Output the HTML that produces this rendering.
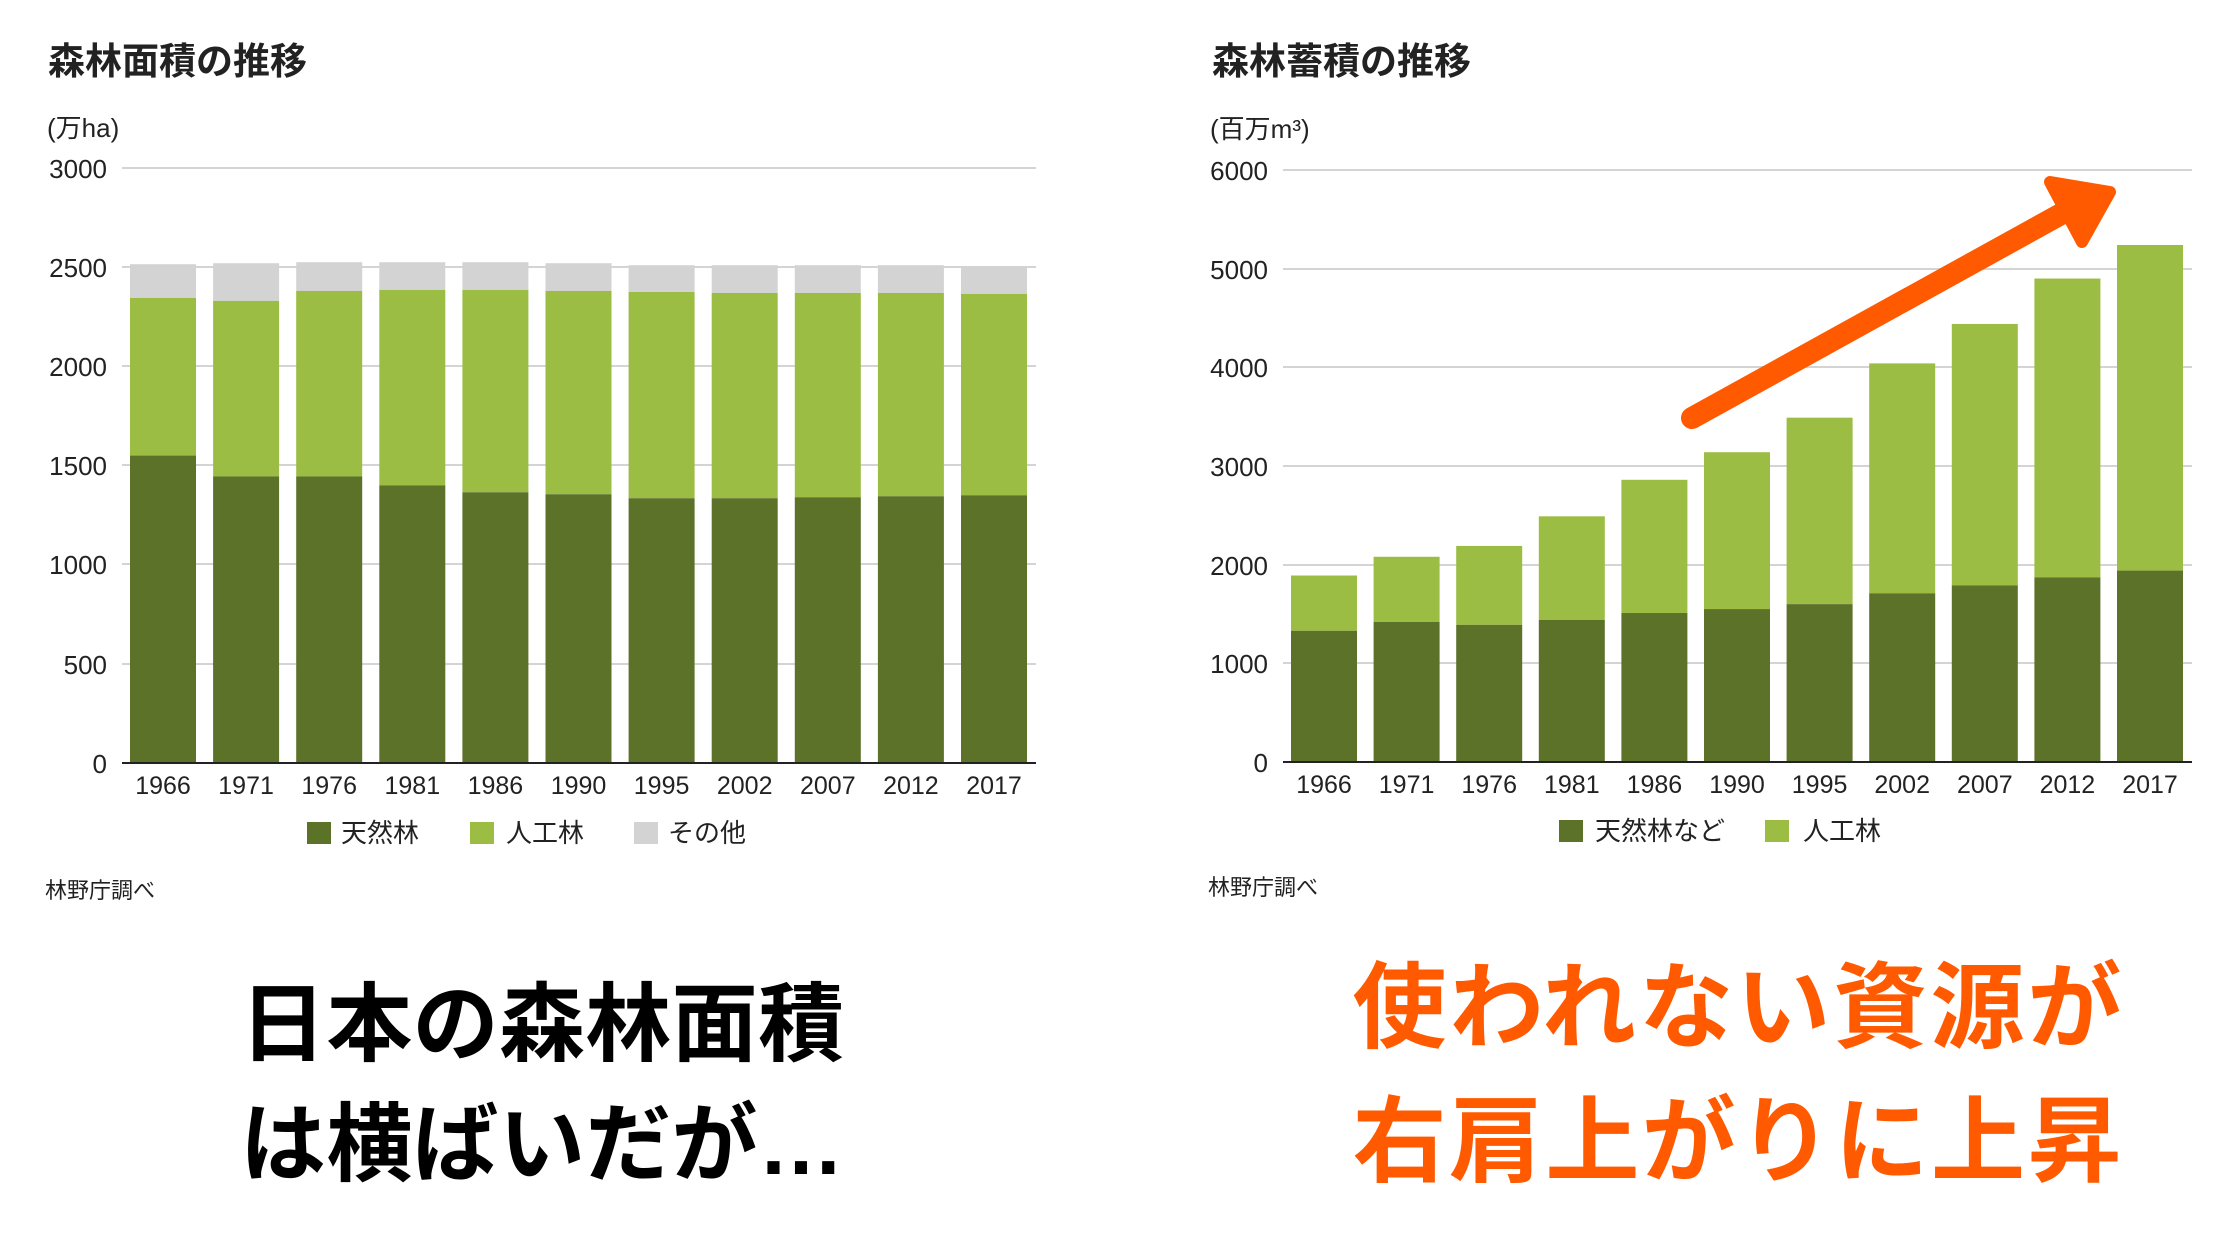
<!DOCTYPE html>
<html><head><meta charset="utf-8"><style>
html,body{margin:0;padding:0;background:#fff;}
svg{display:block;}
text{font-family:"Liberation Sans","Noto Sans CJK JP",sans-serif;}
</style></head><body>
<svg width="2240" height="1260" viewBox="0 0 2240 1260" xmlns="http://www.w3.org/2000/svg">
<rect width="2240" height="1260" fill="#fff"/>
<!-- LEFT CHART -->
<text x="48" y="74" font-size="37" font-weight="bold" fill="#222">森林面積の推移</text>
<text x="47" y="137" font-size="26" fill="#222">(万ha)</text>
<g stroke="#d4d4d4" stroke-width="2">
<line x1="122" x2="1036" y1="168" y2="168"/><line x1="122" x2="1036" y1="267" y2="267"/>
<line x1="122" x2="1036" y1="366" y2="366"/><line x1="122" x2="1036" y1="465" y2="465"/>
<line x1="122" x2="1036" y1="564" y2="564"/><line x1="122" x2="1036" y1="664" y2="664"/>
</g>
<g font-size="26" fill="#222" text-anchor="end">
<text x="107" y="178">3000</text><text x="107" y="277">2500</text><text x="107" y="376">2000</text>
<text x="107" y="475">1500</text><text x="107" y="574">1000</text><text x="107" y="674">500</text><text x="107" y="773">0</text>
</g>
<g id="L"></g>
<line x1="122" x2="1036" y1="763" y2="763" stroke="#222" stroke-width="2"/>
<g font-size="25" fill="#222" text-anchor="middle" id="LX"></g>
<rect x="307" y="822" width="24" height="22" fill="#5c7229"/><text x="341" y="842" font-size="26" fill="#222">天然林</text>
<rect x="470" y="822" width="24" height="22" fill="#9bbd43"/><text x="506" y="842" font-size="26" fill="#222">人工林</text>
<rect x="634" y="822" width="24" height="22" fill="#d3d3d3"/><text x="668" y="842" font-size="26" fill="#222">その他</text>
<text x="45" y="898" font-size="22" fill="#222">林野庁調べ</text>
<!-- RIGHT CHART -->
<text x="1212" y="74" font-size="37" font-weight="bold" fill="#222">森林蓄積の推移</text>
<text x="1210" y="138" font-size="26" fill="#222">(百万m³)</text>
<g stroke="#d4d4d4" stroke-width="2">
<line x1="1283" x2="2192" y1="170" y2="170"/><line x1="1283" x2="2192" y1="269" y2="269"/>
<line x1="1283" x2="2192" y1="367" y2="367"/><line x1="1283" x2="2192" y1="466" y2="466"/>
<line x1="1283" x2="2192" y1="565" y2="565"/><line x1="1283" x2="2192" y1="663" y2="663"/>
</g>
<g font-size="26" fill="#222" text-anchor="end">
<text x="1268" y="180">6000</text><text x="1268" y="279">5000</text><text x="1268" y="377">4000</text>
<text x="1268" y="476">3000</text><text x="1268" y="575">2000</text><text x="1268" y="673">1000</text><text x="1268" y="772">0</text>
</g>
<g id="R"></g>
<line x1="1283" x2="2192" y1="762" y2="762" stroke="#222" stroke-width="2"/>
<g font-size="25" fill="#222" text-anchor="middle" id="RX"></g>
<rect x="1559" y="820" width="24" height="22" fill="#5c7229"/><text x="1595" y="840" font-size="26" fill="#222">天然林など</text>
<rect x="1765" y="820" width="24" height="22" fill="#9bbd43"/><text x="1803" y="840" font-size="26" fill="#222">人工林</text>
<text x="1208" y="895" font-size="22" fill="#222">林野庁調べ</text>
<!-- arrow -->
<line x1="1692" y1="418" x2="2072" y2="208" stroke="#ff5a00" stroke-width="22" stroke-linecap="round"/>
<polygon points="2050,182 2110,192 2082,242" fill="#ff5a00" stroke="#ff5a00" stroke-width="12" stroke-linejoin="round"/>
<!-- captions -->
<g font-weight="bold" fill="#000" text-anchor="middle" font-size="86">
<text x="542" y="1054" textLength="604">日本の森林面積</text>
<text x="542" y="1174" textLength="604">は横ばいだが…</text>
</g>
<g font-weight="bold" fill="#ff5a00" text-anchor="middle" font-size="94">
<text x="1737" y="1040" textLength="769">使われない資源が</text>
<text x="1737" y="1174" textLength="769">右肩上がりに上昇</text>
</g>
</svg>
<script>
(function(){
var ns="http://www.w3.org/2000/svg";
function r(g,x,y,w,h,c){var e=document.createElementNS(ns,"rect");e.setAttribute("x",x);e.setAttribute("y",y);e.setAttribute("width",w);e.setAttribute("height",h);e.setAttribute("fill",c);g.appendChild(e);}
function t(g,x,y,s){var e=document.createElementNS(ns,"text");e.setAttribute("x",x);e.setAttribute("y",y);e.textContent=s;g.appendChild(e);}
var yrs=["1966","1971","1976","1981","1986","1990","1995","2002","2007","2012","2017"];
var L=document.getElementById("L"),LX=document.getElementById("LX");
var n1=[1550,1445,1445,1400,1365,1355,1335,1335,1340,1345,1350],
p1=[2345,2330,2380,2385,2385,2380,2375,2370,2370,2370,2365],
t1=[2515,2520,2525,2525,2525,2520,2510,2510,2510,2510,2505];
var s1=595/3000;
for(var i=0;i<11;i++){var x=130+83.1*i;
r(L,x,763-t1[i]*s1,66,(t1[i]-p1[i])*s1,"#d3d3d3");
r(L,x,763-p1[i]*s1,66,(p1[i]-n1[i])*s1,"#9bbd43");
r(L,x,763-n1[i]*s1,66,n1[i]*s1,"#5c7229");
t(LX,x+33,794,yrs[i]);}
var R=document.getElementById("R"),RX=document.getElementById("RX");
var t2=[1890,2080,2190,2490,2860,3140,3490,4040,4440,4900,5240],
n2=[1330,1420,1390,1440,1510,1550,1600,1710,1790,1870,1940];
var s2=592/6000;
for(var i=0;i<11;i++){var x=1291+82.6*i;
r(R,x,762-t2[i]*s2,66,(t2[i]-n2[i])*s2,"#9bbd43");
r(R,x,762-n2[i]*s2,66,n2[i]*s2,"#5c7229");
t(RX,x+33,793,yrs[i]);}
})();
</script>
</body></html>
